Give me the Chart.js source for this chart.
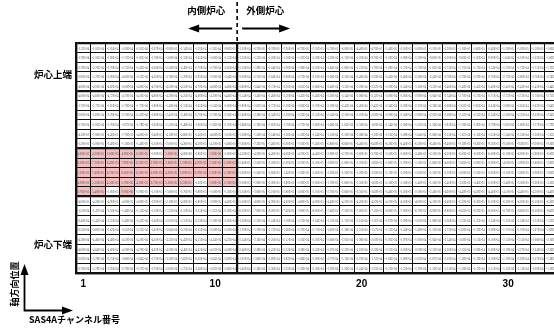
<!DOCTYPE html>
<html><head><meta charset="utf-8">
<script src="https://cdn.jsdelivr.net/npm/chart.js@4/dist/chart.umd.min.js"></script>
<style>html,body{margin:0;padding:0;background:#fff;overflow:hidden;width:554px;height:329px}canvas{display:block}</style>
</head><body><canvas id="c" width="560" height="329"></canvas>
<script>
// SAS4A channel numbers (columns) and the labelled ticks
const channels = Array.from({length: 33}, (_, i) => String(i + 1));
const tickLabels = ['1', '10', '20', '30'];
// reactivity per cell, in units of 1e-5, rows listed from core top to bottom
const UNIT = 1e-5;
const r00 = [-11.2,-10.5,-10.5,-10.8,-10.5,-10.7,-9.8,-11.4,-12.0,-11.1,-9.6,-13.0,-6.7,-6.7,-7.9,-6.7,-7.2,-5.7,-6.0,-4.4,-4.7,-5.4,-5.1,-5.0,-5.1,-5.3,-5.1,-5.6,-5.4,-5.1,-5.2,-5.1,-5.0];
const r01 = [-17.8,-18.5,-18.0,-17.2,-18.5,-17.8,-16.0,-15.2,-16.5,-16.0,-15.2,-13.2,-12.5,-12.8,-11.8,-12.2,-12.8,-13.0,-11.2,-12.0,-9.7,-10.2,-10.8,-12.0,-9.6,-10.0,-9.8,-10.2,-9.9,-10.4,-10.1,-10.3,-10.0];
const r02 = [-27.0,-27.0,-27.0,-27.5,-24.5,-26.0,-25.0,-24.0,-27.0,-27.0,-26.2,-21.0,-19.8,-20.4,-19.0,-19.6,-20.2,-18.4,-18.0,-17.5,-17.8,-16.9,-17.2,-17.0,-16.2,-17.3,-17.5,-17.3,-17.4,-17.5,-17.3,-17.1,-17.2];
const r03 = [-38.0,-37.0,-39.0,-40.0,-31.2,-42.0,-37.8,-37.0,-38.5,-39.0,-36.4,-30.0,-27.5,-28.4,-26.8,-27.5,-28.1,-26.0,-25.2,-24.8,-25.0,-24.1,-24.6,-23.8,-24.3,-27.8,-27.0,-27.8,-27.0,-27.3,-28.0,-27.6,-27.4];
const r04 = [-48.0,-49.5,-48.2,-50.0,-48.0,-47.0,-45.0,-45.2,-47.0,-48.0,-46.8,-38.0,-36.4,-37.2,-35.0,-36.1,-36.8,-34.0,-33.5,-32.8,-33.2,-31.9,-32.4,-31.6,-32.2,-24.6,-24.0,-24.2,-24.0,-24.5,-24.3,-24.2,-24.4];
const r05 = [-46.0,-46.0,-47.2,-47.0,-45.0,-48.0,-42.0,-42.5,-48.0,-42.0,-44.6,-35.4,-34.0,-34.8,-33.0,-34.2,-34.6,-32.0,-31.4,-30.8,-31.2,-30.0,-30.6,-29.8,-30.4,-27.4,-27.0,-27.2,-27.1,-27.3,-27.2,-27.0,-27.1];
const r06 = [-17.2,-17.2,-18.1,-17.8,-17.2,-18.0,-14.0,-15.1,-16.5,-15.4,-16.0,-28.0,-26.5,-27.2,-25.8,-26.6,-27.0,-25.0,-24.5,-24.0,-24.2,-23.4,-23.8,-23.2,-23.6,-26.8,-26.2,-26.5,-26.4,-26.6,-26.5,-26.3,-26.4];
const r07 = [-28.0,-26.0,-27.0,-27.0,-24.7,-28.0,-24.5,-24.0,-27.0,-27.0,-25.6,-24.0,-22.8,-23.4,-22.0,-22.6,-23.2,-21.4,-21.0,-20.5,-20.8,-20.0,-20.4,-19.8,-20.2,-23.8,-23.2,-23.5,-23.4,-23.6,-23.5,-23.2,-23.4];
const r08 = [-17.0,-18.5,-17.0,-16.7,-17.8,-16.2,-15.2,-14.8,-16.0,-15.6,-15.0,-18.6,-17.6,-18.2,-17.0,-17.5,-18.0,-16.6,-16.2,-15.8,-16.0,-15.4,-15.8,-15.2,-15.6,-18.2,-17.8,-18.0,-17.9,-18.1,-18.0,-17.7,-17.9];
const r09 = [-4.3,-7.8,-4.4,-7.7,-4.6,-3.4,-4.1,-4.6,-5.4,-4.6,-5.1,-12.8,-12.0,-12.4,-11.6,-12.0,-12.4,-11.3,-11.0,-10.8,-11.0,-10.5,-10.8,-10.4,-10.6,-13.5,-13.1,-13.3,-13.2,-13.4,-13.3,-13.0,-13.2];
const r10 = [-1.2,-3.0,-1.4,-1.1,-1.4,-1.5,-2.0,-4.2,-4.2,-4.2,-3.6,-7.6,-7.2,-7.4,-6.9,-7.1,-7.4,-6.8,-6.6,-6.4,-6.6,-6.3,-6.4,-6.2,-6.4,-9.4,-9.1,-9.3,-9.2,-9.3,-9.2,-9.0,-9.2];
const r11 = [4.6,4.3,1.6,4.9,2.5,-1.0,1.5,-0.4,-1.8,1.0,-5.0,-4.5,-4.2,-4.4,-4.0,-4.2,-4.4,-3.9,-3.7,-3.6,-3.7,-3.5,-3.6,-3.4,-3.5,-6.2,-6.0,-6.1,-6.0,-6.1,-6.0,-5.9,-6.0];
const r12 = [6.0,7.1,6.4,7.9,6.2,2.9,2.8,1.2,4.7,2.5,1.0,-2.4,-2.2,-2.3,-2.0,-2.2,-2.3,-1.9,-1.8,-1.7,-1.8,-1.6,-1.7,-1.5,-1.6,-4.0,-3.8,-3.9,-3.9,-4.0,-3.9,-3.8,-3.9];
const r13 = [7.3,7.4,6.7,8.0,6.5,6.9,4.2,1.8,6.7,2.0,2.1,-1.6,-1.5,-1.6,-1.4,-1.5,-1.6,-1.3,-1.2,-1.2,-1.2,-1.1,-1.2,-1.0,-1.1,-3.1,-3.0,-3.1,-3.0,-3.1,-3.0,-2.9,-3.0];
const r14 = [4.9,5.2,4.5,5.7,4.3,6.7,2.3,6.5,-1.0,1.0,2.1,-2.0,-1.9,-2.0,-1.8,-1.9,-2.0,-1.7,-1.6,-1.5,-1.6,-1.5,-1.5,-1.4,-1.5,-3.4,-3.3,-3.4,-3.3,-3.4,-3.3,-3.2,-3.3];
const r15 = [1.7,5.4,-1.0,0.9,-2.0,-1.1,-1.8,-1.7,-1.8,-1.0,-1.3,-3.2,-3.0,-3.1,-2.8,-3.0,-3.1,-2.7,-2.6,-2.5,-2.6,-2.4,-2.5,-2.3,-2.4,-4.6,-4.4,-4.5,-4.4,-4.5,-4.4,-4.3,-4.4];
const r16 = [-4.6,-4.2,-4.9,-4.0,-4.8,-2.9,-2.1,-4.0,-1.8,-3.9,-4.4,-5.0,-4.8,-4.9,-4.6,-4.8,-4.9,-4.4,-4.3,-4.2,-4.3,-4.1,-4.2,-4.0,-4.1,-6.4,-6.2,-6.3,-6.2,-6.3,-6.2,-6.1,-6.2];
const r17 = [-15.2,-14.7,-15.0,-14.8,-15.2,-11.0,-12.5,-11.2,-11.5,-12.1,-12.6,-8.2,-7.9,-8.0,-7.6,-7.8,-8.0,-7.4,-7.2,-7.0,-7.1,-6.8,-7.0,-6.7,-6.9,-8.8,-8.6,-8.7,-8.6,-8.7,-8.6,-8.5,-8.6];
const r18 = [-24.0,-24.5,-23.1,-24.8,-24.7,-24.0,-20.5,-21.5,-22.3,-21.8,-22.6,-12.6,-12.1,-12.4,-11.8,-12.1,-12.4,-11.5,-11.2,-11.0,-11.1,-10.7,-10.9,-10.5,-10.8,-12.6,-12.3,-12.5,-12.4,-12.5,-12.4,-12.2,-12.3];
const r19 = [-35.2,-36.0,-36.2,-35.1,-35.2,-36.2,-30.4,-32.1,-33.5,-32.8,-33.6,-17.6,-17.0,-17.3,-16.6,-17.0,-17.3,-16.2,-15.8,-15.5,-15.7,-15.1,-15.4,-14.9,-15.2,-17.2,-16.8,-17.0,-16.9,-17.1,-17.0,-16.7,-16.9];
const r20 = [-43.0,-44.0,-44.8,-45.0,-42.0,-43.0,-43.5,-44.2,-41.5,-42.4,-43.2,-22.4,-21.6,-22.0,-21.2,-21.6,-22.0,-20.6,-20.2,-19.8,-20.0,-19.3,-19.7,-19.0,-19.4,-21.4,-20.8,-21.1,-21.0,-21.2,-21.1,-20.8,-21.0];
const r21 = [-46.0,-46.4,-46.0,-45.8,-47.0,-46.2,-45.0,-44.6,-44.1,-45.2,-45.8,-24.6,-23.8,-24.2,-23.3,-23.8,-24.2,-22.7,-22.2,-21.8,-22.0,-21.2,-21.6,-20.9,-21.3,-23.0,-22.5,-22.8,-22.6,-22.9,-22.7,-22.4,-22.6];
const r22 = [-38.2,-37.8,-37.5,-38.6,-36.4,-37.0,-35.8,-36.2,-35.0,-36.4,-36.9,-19.2,-18.6,-18.9,-18.2,-18.6,-18.9,-17.7,-17.4,-17.0,-17.2,-16.6,-16.9,-16.3,-16.7,-12.0,-11.8,-11.9,-11.8,-11.9,-11.8,-11.7,-11.8];
const r23 = [-27.0,-27.8,-27.6,-27.8,-25.7,-27.0,-26.0,-27.5,-24.8,-26.2,-26.8,-14.0,-13.6,-13.8,-13.2,-13.6,-13.8,-12.9,-12.6,-12.4,-12.5,-12.1,-12.3,-11.9,-12.2,-11.3,-11.0,-11.2,-11.1,-11.2,-11.1,-10.9,-11.0];
const rows = [r00,r01,r02,r03,r04,r05,r06,r07,r08,r09,r10,r11,r12,r13,r14,r15,r16,r17,r18,r19,r20,r21,r22,r23];

// heavier rules between cell blocks
const heavyRowLines = [0, 5, 11, 16, 24];
const heavyColLines = [0, 11];
const INNER_CORE_COLS = 11;

const PINK = '#f2c0c0';
const FONT_JP = "'Noto Sans CJK JP', 'Noto Sans CJK SC', sans-serif";

function fmtSci(v) {
  const s = (v * UNIT).toExponential(2);
  const [m, e] = s.split('e');
  const n = parseInt(e, 10);
  return m + 'E' + (n < 0 ? '-' : '+') + String(Math.abs(n)).padStart(2, '0');
}

const datasets = rows.map((vals, r) => ({
  label: 'row' + r,
  data: vals.map(() => [r, r + 1]),
  cellValues: vals,
  backgroundColor: vals.map(v => v > 0 ? PINK : '#ffffff'),
  borderWidth: 0,
  grouped: false,
  barPercentage: 1,
  categoryPercentage: 1
}));

// value text inside each cell
const cellText = {
  id: 'cellText',
  afterDatasetsDraw(chart) {
    const ctx = chart.ctx;
    ctx.save();
    ctx.fillStyle = '#555';
    ctx.font = "5px 'Liberation Serif'";
    ctx.textAlign = 'center';
    ctx.textBaseline = 'middle';
    chart.data.datasets.forEach((ds, di) => {
      const meta = chart.getDatasetMeta(di);
      meta.data.forEach((el, i) => {
        const txt = fmtSci(ds.cellValues[i]);
        const w = ctx.measureText(txt).width;
        const sx = Math.min(1, 11.8 / w);
        ctx.save();
        ctx.translate(el.x, (el.y + el.base) / 2 + 0.3);
        ctx.scale(sx, 1);
        ctx.fillText(txt, 0, 0);
        ctx.restore();
      });
    });
    ctx.restore();
  }
};

function arrowHead(ctx, tipX, tipY, dir, len, half) {
  ctx.beginPath();
  if (dir === 'left') { ctx.moveTo(tipX, tipY); ctx.lineTo(tipX + len, tipY - half); ctx.lineTo(tipX + len, tipY + half); }
  if (dir === 'right') { ctx.moveTo(tipX, tipY); ctx.lineTo(tipX - len, tipY - half); ctx.lineTo(tipX - len, tipY + half); }
  if (dir === 'up') { ctx.moveTo(tipX, tipY); ctx.lineTo(tipX - half, tipY + len); ctx.lineTo(tipX + half, tipY + len); }
  ctx.closePath();
  ctx.fill();
}

// core region captions, direction arrows and axis captions
const annotations = {
  id: 'annotations',
  afterDraw(chart) {
    const ctx = chart.ctx;
    const xs = chart.scales.x;
    const area = chart.chartArea;
    const split = (xs.getPixelForValue(INNER_CORE_COLS - 1) + xs.getPixelForValue(INNER_CORE_COLS)) / 2;
    ctx.save();
    ctx.fillStyle = '#000';
    ctx.strokeStyle = '#000';
    ctx.font = 'bold 9.5px ' + FONT_JP;
    ctx.textBaseline = 'middle';
    ctx.textAlign = 'center';
    ctx.fillText('内側炉心', split - 31, 10);
    ctx.fillText('外側炉心', split + 28, 10);

    // boundary between inner and outer core
    ctx.setLineDash([4, 3]);
    ctx.lineWidth = 1.6;
    ctx.beginPath();
    ctx.moveTo(split, 2);
    ctx.lineTo(split, area.top);
    ctx.stroke();
    ctx.setLineDash([]);

    ctx.lineWidth = 2;
    ctx.beginPath();
    ctx.moveTo(split - 5, 28.5); ctx.lineTo(split - 42, 28.5);
    ctx.moveTo(split + 5, 28.5); ctx.lineTo(split + 44, 28.5);
    ctx.stroke();
    arrowHead(ctx, split - 49, 28.5, 'left', 11, 4);
    arrowHead(ctx, split + 53, 28.5, 'right', 11, 4);

    ctx.font = 'bold 9.5px ' + FONT_JP;
    ctx.textAlign = 'right';
    const ys = chart.scales.y;
    ctx.fillText('炉心上端', 72, ys.getPixelForValue(3.3));
    ctx.fillText('炉心下端', 72, ys.getPixelForValue(21.0));

    // axis direction indicator
    ctx.lineWidth = 1.8;
    ctx.beginPath();
    ctx.moveTo(24.5, 273); ctx.lineTo(24.5, 310.5); ctx.lineTo(64, 310.5);
    ctx.stroke();
    arrowHead(ctx, 24.5, 264, 'up', 11, 4);
    arrowHead(ctx, 73, 310.5, 'right', 11, 4);

    ctx.textAlign = 'left';
    ctx.font = 'bold 9px ' + FONT_JP;
    ctx.fillText('SAS4Aチャンネル番号', 29, 319.5);
    ctx.save();
    ctx.translate(15, 284);
    ctx.rotate(-Math.PI / 2);
    ctx.textAlign = 'center';
    ctx.fillText('軸方向位置', 0, 0);
    ctx.restore();
    ctx.restore();
  }
};

new Chart(document.getElementById('c'), {
  type: 'bar',
  data: { labels: channels, datasets },
  plugins: [cellText, annotations],
  options: {
    responsive: false,
    animation: false,
    layout: { padding: { top: 43, right: 0.55, left: 0, bottom: 0 } },
    plugins: { legend: { display: false }, tooltip: { enabled: false } },
    scales: {
      x: {
        type: 'category',
        offset: true,
        afterFit(scale) { scale.height = 56; },
        grid: {
          offset: true,
          drawTicks: false,
          z: 1,
          color: '#111',
          lineWidth: (c) => heavyColLines.includes(c.index) ? 2.2 : 1
        },
        border: { display: true, color: '#111', width: 2.2, z: 1 },
        ticks: {
          autoSkip: false,
          maxRotation: 0,
          padding: 5,
          color: '#000',
          font: { family: "'Liberation Sans', Arial, sans-serif", size: 10, weight: 'bold' },
          callback(val) {
            const lab = this.getLabelForValue(val);
            return tickLabels.includes(lab) ? lab : '';
          }
        }
      },
      y: {
        type: 'linear',
        min: 0,
        max: rows.length,
        reverse: true,
        afterFit(scale) { scale.width = 76; },
        grid: {
          drawTicks: false,
          z: 1,
          color: '#111',
          lineWidth: (c) => heavyRowLines.includes(c.tick.value) ? 2.2 : 1
        },
        border: { display: true, color: '#111', width: 2.2, z: 1 },
        ticks: { display: false, stepSize: 1 }
      }
    }
  }
});
</script>
</body></html>
